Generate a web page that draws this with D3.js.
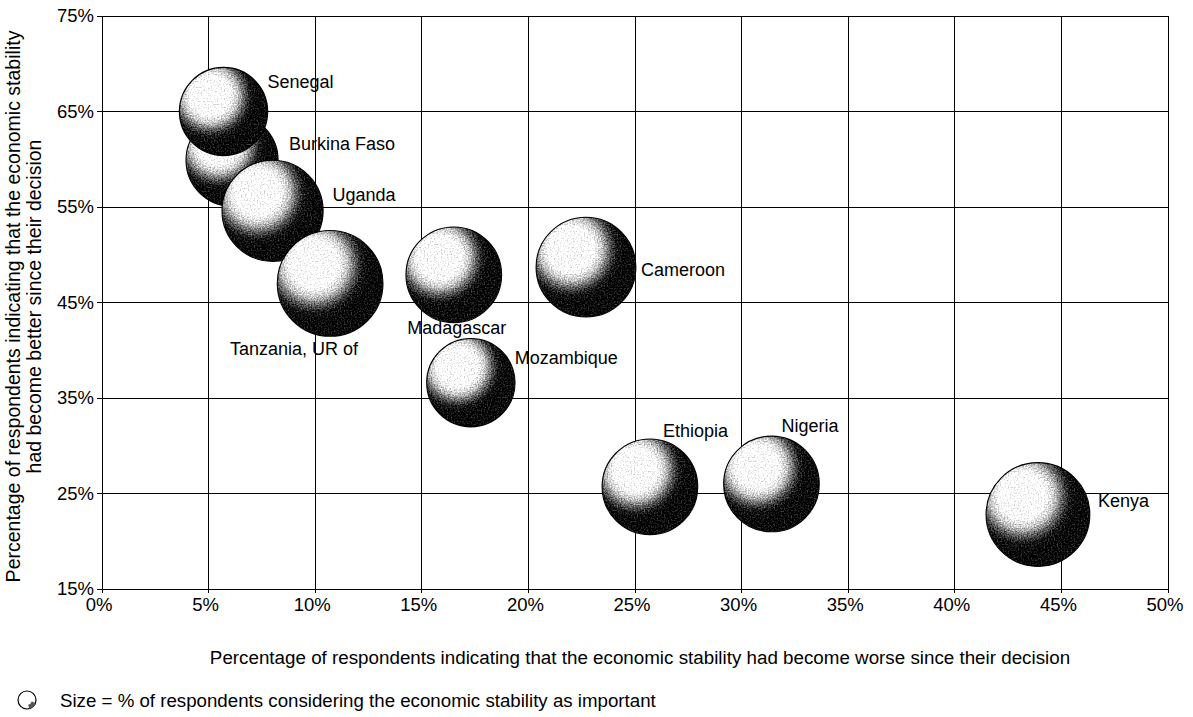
<!DOCTYPE html>
<html>
<head>
<meta charset="utf-8">
<script src="https://cdn.jsdelivr.net/npm/d3@7/dist/d3.min.js"></script>
<style>
	html, body { margin: 0; padding: 0; background: #fff; }
	svg text { font-family: "Liberation Sans", Arial, Helvetica, sans-serif; fill: #000; }
</style>
</head>
<body>
<svg id="chart" width="1193" height="717"></svg>
<script>
;(function() {
	"use strict";

	// drawing order matters: later bubbles sit on top of earlier ones
	var countries = ["Burkina Faso", "Senegal", "Uganda", "Tanzania, UR of", "Madagascar",
		"Mozambique", "Cameroon", "Ethiopia", "Nigeria", "Kenya"];
	// % saying economic stability became worse (x)
	var worse = [6.1, 5.7, 8.0, 10.7, 16.5, 17.3, 22.7, 25.7, 31.4, 43.9];
	// % saying economic stability became better (y)
	var better = [59.9, 65.0, 54.6, 47.0, 47.9, 36.6, 48.7, 25.7, 26.0, 22.8];
	// % considering economic stability as important (bubble size)
	var important = [63, 58, 76, 83, 68, 58, 74, 68, 68, 80];

	var xTicks = [0, 5, 10, 15, 20, 25, 30, 35, 40, 45, 50];
	var yTicks = [15, 25, 35, 45, 55, 65, 75];

	var xTitle = "Percentage of respondents indicating that the economic stability had become worse since their decision";
	var yTitle = ["Percentage of respondents indicating that the economic stability",
		"had become better since their decision"];
	var legendText = "Size = % of respondents considering the economic stability as important";

	// where each label sits relative to its bubble centre
	var labelSpots = {
		"Senegal": ["start", 44, -24],
		"Burkina Faso": ["start", 57, -10],
		"Uganda": ["start", 60, -10],
		"Tanzania, UR of": ["end", 28, 72],
		"Madagascar": ["middle", 3, 59],
		"Mozambique": ["start", 44, -19],
		"Cameroon": ["start", 55, 9],
		"Ethiopia": ["start", 13, -50],
		"Nigeria": ["start", 10, -52],
		"Kenya": ["start", 60, -8]
	};

	var left = 102, right = 1168, top = 16, bottom = 589;

	var svg = d3.select("#chart");

	var x = d3.scaleLinear().domain([0, 50]).range([left, right]);
	var y = d3.scaleLinear().domain([15, 75]).range([bottom, top]);
	var r = d3.scaleSqrt().domain([0, 100]).range([0, 58]);

	var defs = svg.append("defs");
	// light from the upper left, dark crescent at the lower right
	var grad = defs.append("radialGradient")
		.attr("id", "sphere")
		.attr("cx", "35%").attr("cy", "32%").attr("r", "75%")
		.attr("fx", "35%").attr("fy", "32%");
	[[0, "#ffffff"], [0.3, "#ffffff"], [0.42, "#bdbdbd"], [0.52, "#575757"], [0.61, "#111111"], [0.7, "#000000"], [1, "#000000"]]
		.forEach(function(s) {
			grad.append("stop").attr("offset", s[0]).attr("stop-color", s[1]);
		});

	// grainy print look
	var grain = defs.append("filter")
		.attr("id", "grain")
		.attr("x", "-5%").attr("y", "-5%").attr("width", "110%").attr("height", "110%")
		.attr("color-interpolation-filters", "sRGB");
	grain.append("feTurbulence").attr("type", "fractalNoise").attr("baseFrequency", 0.7)
		.attr("numOctaves", 1).attr("seed", 4).attr("result", "noise");
	grain.append("feColorMatrix").attr("in", "noise").attr("type", "matrix")
		.attr("values", "1 0 0 0 0  1 0 0 0 0  1 0 0 0 0  0 0 0 0 1").attr("result", "gray");
	grain.append("feComposite").attr("in", "SourceGraphic").attr("in2", "gray")
		.attr("operator", "arithmetic").attr("k1", 0).attr("k2", 1).attr("k3", 0.9).attr("k4", -0.43)
		.attr("result", "mix");
	grain.append("feComposite").attr("in", "mix").attr("in2", "SourceGraphic").attr("operator", "in");

	// grid
	var grid = svg.append("g").attr("stroke", "#000").attr("stroke-width", 1).attr("shape-rendering", "crispEdges");
	grid.selectAll("line.v").data(xTicks).enter().append("line")
		.attr("class", "v")
		.attr("x1", function(d) { return x(d); }).attr("x2", function(d) { return x(d); })
		.attr("y1", top).attr("y2", bottom + 4);
	grid.selectAll("line.h").data(yTicks).enter().append("line")
		.attr("class", "h")
		.attr("x1", left - 5).attr("x2", right)
		.attr("y1", function(d) { return y(d); }).attr("y2", function(d) { return y(d); });

	// tick labels
	svg.append("g").selectAll("text").data(yTicks).enter().append("text")
		.attr("x", left - 8)
		.attr("y", function(d) { return y(d) + 6; })
		.attr("text-anchor", "end")
		.attr("font-size", 18.5)
		.text(function(d) { return d + "%"; });

	svg.append("g").selectAll("text").data(xTicks).enter().append("text")
		.attr("x", function(d) { return x(d) - 3; })
		.attr("y", bottom + 22)
		.attr("text-anchor", "middle")
		.attr("font-size", 18.5)
		.text(function(d) { return d + "%"; });

	// bubbles
	var rows = countries.map(function(c, i) {
		return { name: c, wx: worse[i], by: better[i], size: important[i] };
	});

	var bubble = svg.append("g").selectAll("g").data(rows).enter().append("g");
	bubble.append("circle")
		.attr("cx", function(d) { return x(d.wx); })
		.attr("cy", function(d) { return y(d.by); })
		.attr("r", function(d) { return r(d.size); })
		.attr("fill", "url(#sphere)")
		.attr("filter", "url(#grain)");
	bubble.append("circle")
		.attr("cx", function(d) { return x(d.wx); })
		.attr("cy", function(d) { return y(d.by); })
		.attr("r", function(d) { return r(d.size); })
		.attr("fill", "none")
		.attr("stroke", "#000")
		.attr("stroke-width", 1.1);

	svg.append("g").selectAll("text").data(rows).enter().append("text")
		.attr("x", function(d) { return x(d.wx) + labelSpots[d.name][1]; })
		.attr("y", function(d) { return y(d.by) + labelSpots[d.name][2]; })
		.attr("text-anchor", function(d) { return labelSpots[d.name][0]; })
		.attr("font-size", 18)
		.text(function(d) { return d.name; });

	// axis titles
	svg.append("text")
		.attr("x", 640).attr("y", 664)
		.attr("text-anchor", "middle")
		.attr("font-size", 18.8)
		.text(xTitle);

	var yt = svg.append("text")
		.attr("transform", "translate(0," + ((top + bottom) / 2 + 4) + ") rotate(-90)")
		.attr("text-anchor", "middle")
		.attr("font-size", 19.5);
	yt.selectAll("tspan").data(yTitle).enter().append("tspan")
		.attr("x", 0)
		.attr("y", function(d, i) { return 20 + i * 21; })
		.text(function(d) { return d; });

	// legend
	var lg = svg.append("g");
	lg.append("circle").attr("cx", 27).attr("cy", 700).attr("r", 9)
		.attr("fill", "#fff").attr("stroke", "#000").attr("stroke-width", 1.2);
	lg.append("path")
		.attr("d", d3.arc()({ innerRadius: 5, outerRadius: 9, startAngle: 1.9, endAngle: 2.9 }))
		.attr("transform", "translate(27,700)")
		.attr("fill", "#555");
	lg.append("text").attr("x", 60).attr("y", 707).attr("font-size", 18.7).text(legendText);
})();
</script>
</body>
</html>
